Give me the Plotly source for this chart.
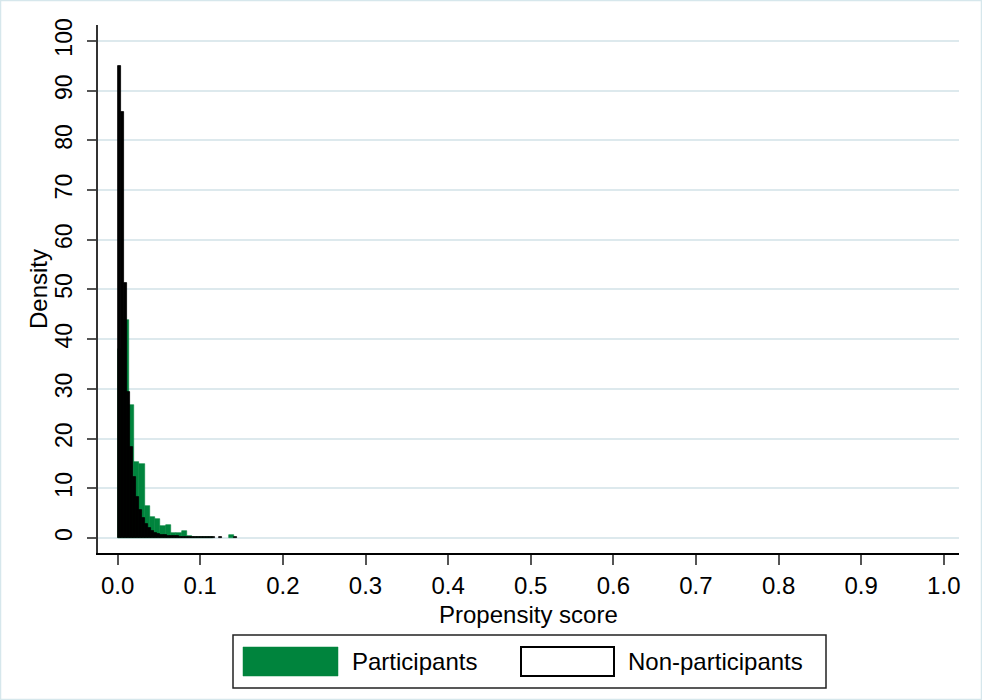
import plotly.graph_objects as go

# Histogram of propensity scores (density scale), two groups
participants_start = 0.0005
participants_width = 0.0064
participants_density = [38, 43.9, 26.8, 15.3, 14.9, 6.4, 4.2, 3.8, 2.4, 2.6,
                        1.1, 1.1, 1.4, 0.4, 0.3, 0.3, 0.2, 0.15, 0, 0,
                        0, 0.6]

nonpart_start = 0.0
nonpart_width = 0.0037
nonpart_density = [95, 85.7, 51.3, 29.4, 18.3, 12.3, 8.2, 5.6, 4.0, 2.8,
                   2.0, 1.5, 1.1, 0.9, 0.7, 0.6, 0.5, 0.45, 0.4, 0.35,
                   0.3, 0.3, 0.25, 0.25, 0.2, 0.2, 0.2, 0.15, 0.15, 0.15,
                   0.1, 0.1, 0, 0.1, 0, 0, 0, 0, 0.1]

x_ticks = [0.0, 0.1, 0.2, 0.3, 0.4, 0.5, 0.6, 0.7, 0.8, 0.9, 1.0]
x_tick_text = ["0.0", "0.1", "0.2", "0.3", "0.4", "0.5", "0.6", "0.7", "0.8", "0.9", "1.0"]
y_ticks = [0, 10, 20, 30, 40, 50, 60, 70, 80, 90, 100]

GREEN = "#00843d"
GRID = "#dde9ed"
FONT = "Liberation Sans, Arial, sans-serif"

W, H = 982, 700
ML, MR, MT, MB = 98, 23, 25, 147
PW, PH = W - ML - MR, H - MT - MB


def px(xp):
    return (xp - ML) / PW


def py(yp):
    return (H - MB - yp) / PH


def centers(start, width, vals):
    xs, ys = [], []
    for i, v in enumerate(vals):
        if v > 0:
            xs.append(start + width * (i + 0.5))
            ys.append(v)
    return xs, ys


gx, gy = centers(participants_start, participants_width, participants_density)
bx, by = centers(nonpart_start, nonpart_width, nonpart_density)

fig = go.Figure()
fig.add_trace(go.Bar(x=gx, y=gy, width=participants_width,
                     marker=dict(color=GREEN, line=dict(color=GREEN, width=0.6)),
                     name="Participants", showlegend=False))
fig.add_trace(go.Bar(x=bx, y=by, width=nonpart_width,
                     marker=dict(color="black", line=dict(color="black", width=0.8)),
                     name="Non-participants", showlegend=False))

shapes = [
    # outer frame of the graph region
    dict(type="rect", xref="paper", yref="paper",
         x0=px(0.5), x1=px(W - 0.5), y0=py(H - 0.5), y1=py(0.5),
         line=dict(color="#d6e7ec", width=1.5), layer="below"),
    # legend box
    dict(type="rect", xref="paper", yref="paper",
         x0=px(233), x1=px(826), y0=py(688), y1=py(635),
         line=dict(color="#222222", width=1.5), fillcolor="white"),
    dict(type="rect", xref="paper", yref="paper",
         x0=px(243), x1=px(338), y0=py(676), y1=py(647),
         line=dict(color=GREEN, width=0.5), fillcolor=GREEN),
    dict(type="rect", xref="paper", yref="paper",
         x0=px(521), x1=px(614), y0=py(676), y1=py(647),
         line=dict(color="black", width=2), fillcolor="white"),
]

annotations = [
    dict(text="Propensity score", xref="paper", yref="paper",
         x=0.5, y=py(614), xanchor="center", yanchor="middle",
         showarrow=False, font=dict(size=24, color="black", family=FONT)),
    dict(text="Density", xref="paper", yref="paper",
         x=px(38), y=0.5, xanchor="center", yanchor="middle", textangle=-90,
         showarrow=False, font=dict(size=24, color="black", family=FONT)),
    dict(text="Participants", xref="paper", yref="paper",
         x=px(350), y=py(661), xanchor="left", yanchor="middle",
         showarrow=False, font=dict(size=24, color="black", family=FONT)),
    dict(text="Non-participants", xref="paper", yref="paper",
         x=px(626), y=py(661), xanchor="left", yanchor="middle",
         showarrow=False, font=dict(size=24, color="black", family=FONT)),
]

fig.update_layout(
    width=W, height=H,
    margin=dict(l=ML, r=MR, t=MT, b=MB, pad=0),
    paper_bgcolor="white", plot_bgcolor="white",
    barmode="overlay", bargap=0,
    showlegend=False,
    font=dict(family=FONT, color="black"),
    shapes=shapes, annotations=annotations,
    xaxis=dict(range=[-0.0238, 1.0184], tickvals=x_ticks, ticktext=x_tick_text,
               showgrid=False, zeroline=False,
               showline=True, linecolor="black", linewidth=1.5,
               ticks="outside", ticklen=10, tickwidth=2, tickcolor="#555555",
               ticklabelstandoff=0,
               tickfont=dict(size=24, color="black", family=FONT)),
    yaxis=dict(range=[-3.02, 103.2], tickvals=y_ticks,
               showgrid=True, gridcolor=GRID, gridwidth=1.5, zeroline=False,
               showline=True, linecolor="#333333", linewidth=1.5,
               ticks="outside", ticklen=9, tickwidth=2, tickcolor="#555555",
               tickangle=-90, ticklabelstandoff=6,
               tickfont=dict(size=23, color="black", family=FONT)),
)

fig.write_html("out.html")
